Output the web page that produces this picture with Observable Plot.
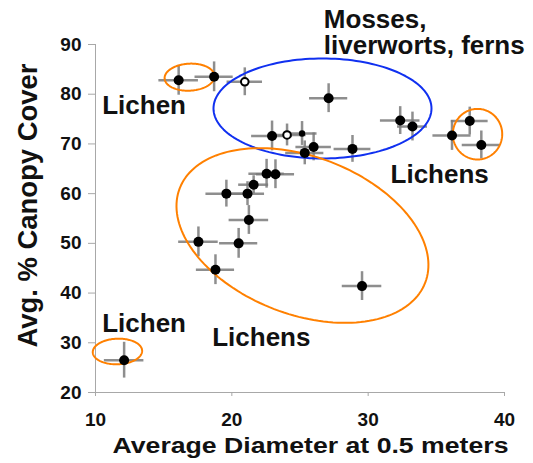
<!DOCTYPE html>
<html>
<head>
<meta charset="utf-8">
<script src="https://cdn.jsdelivr.net/npm/d3@7"></script>
<script src="https://cdn.jsdelivr.net/npm/@observablehq/plot@0.6"></script>
<style>
  html, body { margin: 0; padding: 0; background: #fff; }
</style>
</head>
<body>
<div id="chart"></div>
<script>
// Plot means: stem diameter at 0.5 m vs canopy cover, with ± error ranges
const diameter    = [16.1, 18.7, 20.95, 22.95, 24.05, 25.15, 26.0, 25.35, 28.85, 27.1, 32.35, 33.25, 36.15, 37.45, 38.3, 22.55, 23.2, 21.6, 19.6, 21.15, 21.25, 17.55, 20.5, 18.8, 29.55, 12.1];
const canopy      = [82.8, 83.5, 82.5, 71.6, 71.8, 72.1, 69.4, 68.2, 69.0, 79.2, 74.7, 73.5, 71.7, 74.6, 69.8, 64.0, 63.9, 61.8, 60.0, 60.0, 54.7, 50.3, 50.0, 44.7, 41.4, 26.5];
const diameterErr = [1.45, 1.4, 1.3, 1.5, 1.4, 1.1, 1.3, 1.4, 1.35, 1.4, 1.45, 1.1, 1.4, 1.35, 1.4, 1.3, 1.4, 1.1, 1.5, 1.25, 1.45, 1.45, 1.4, 1.4, 1.45, 1.45];
const canopyErr   = [3.0, 3.0, 2.8, 3.0, 2.2, 2.4, 2.8, 2.4, 2.7, 2.9, 2.8, 2.9, 3.0, 2.8, 2.8, 2.9, 2.9, 1.8, 2.7, 2.4, 2.9, 3.0, 3.0, 3.0, 2.9, 3.6];
const marker      = ["filled", "filled", "open", "filled", "open", "small", "filled", "filled", "filled", "filled", "filled", "filled", "filled", "filled", "filled", "filled", "filled", "filled", "filled", "filled", "filled", "filled", "filled", "filled", "filled", "filled"];

const xTicks = [10, 20, 30, 40];
const yTicks = [20, 30, 40, 50, 60, 70, 80, 90];
const xTitle = "Average Diameter at 0.5 meters";
const yTitle = "Avg. % Canopy Cover";

// Group labels, anchored at their start/baseline in data units
const labelText = ["Lichen", "Mosses,\nliverworts, ferns", "Lichens", "Lichen", "Lichens"];
const labelX    = [10.49, 26.75, 31.64, 10.49, 18.56];
const labelY    = [76.1, 88.13, 62.24, 32.27, 29.45];

// Group outlines: centre in data units, radii (px) and tilt (deg)
const ringX     = [16.9, 26.65, 38.02, 11.61, 25.18];
const ringY     = [83.43, 77.13, 71.96, 28.25, 51.58];
const ringColor = ["orange", "blue", "orange", "orange", "orange"];

const points = diameter.map((d, i) => ({
  x: d, y: canopy[i], xe: diameterErr[i], ye: canopyErr[i], kind: marker[i]
}));

const W = 533, H = 463;
const margin = {top: 44, right: 29, bottom: 71, left: 95};
const xDomain = [10, 40], yDomain = [20, 90];
const kx = (W - margin.left - margin.right) / (xDomain[1] - xDomain[0]);
const ky = (H - margin.top - margin.bottom) / (yDomain[1] - yDomain[0]);

const ringShape = [
  {rx: 25, ry: 13.5, angle: -3},
  {rx: 109, ry: 50, angle: 0},
  {rx: 24.7, ry: 25.3, angle: 0},
  {rx: 24.7, ry: 12.8, angle: -2},
  {rx: 131.5, ry: 78.8, angle: 21}
];
const palette = {orange: "#ff8000", blue: "#1030f0"};

function ringPoints(i) {
  const {rx, ry, angle} = ringShape[i];
  const th = angle * Math.PI / 180;
  const pts = [];
  for (let k = 0; k <= 160; k++) {
    const t = k / 160 * 2 * Math.PI;
    const px = rx * Math.cos(t) * Math.cos(th) - ry * Math.sin(t) * Math.sin(th);
    const py = rx * Math.cos(t) * Math.sin(th) + ry * Math.sin(t) * Math.cos(th);
    pts.push({x: ringX[i] + px / kx, y: ringY[i] - py / ky});
  }
  return pts;
}

const labels = labelText.map((t, i) => ({text: t, x: labelX[i], y: labelY[i]}));
const font = "'Liberation Sans', Arial, sans-serif";

const chart = Plot.plot({
  width: W,
  height: H,
  marginTop: margin.top,
  marginRight: margin.right,
  marginBottom: margin.bottom,
  marginLeft: margin.left,
  style: {fontFamily: font, fontSize: "19px", fontWeight: "bold", color: "#111", background: "#fff"},
  x: {domain: xDomain},
  y: {domain: yDomain},
  marks: [
    Plot.ruleX([10], {stroke: "#a8a8a8", strokeWidth: 1}),
    Plot.ruleY([20], {stroke: "#a8a8a8", strokeWidth: 1}),
    Plot.axisX({ticks: xTicks, tickSize: 4, tickPadding: 16, stroke: "#a8a8a8", fill: "#111", label: null}),
    Plot.axisY({ticks: yTicks, tickSize: 7, tickPadding: 7, stroke: "#a8a8a8", fill: "#111", label: null}),
    // error ranges
    Plot.ruleY(points, {y: "y", x1: d => d.x - d.xe, x2: d => d.x + d.xe, stroke: "#7a7a7a", strokeWidth: 2.5, strokeOpacity: 0.85}),
    Plot.ruleX(points, {x: "x", y1: d => d.y - d.ye, y2: d => d.y + d.ye, stroke: "#7a7a7a", strokeWidth: 2.5, strokeOpacity: 0.85}),
    // group outlines
    ...ringX.map((_, i) => Plot.line(ringPoints(i), {x: "x", y: "y", stroke: palette[ringColor[i]], strokeWidth: 2})),
    // means
    Plot.dot(points.filter(d => d.kind === "filled"), {x: "x", y: "y", r: 5, fill: "#000", stroke: "none"}),
    Plot.dot(points.filter(d => d.kind === "small"), {x: "x", y: "y", r: 3.2, fill: "#000", stroke: "none"}),
    Plot.dot(points.filter(d => d.kind === "open"), {x: "x", y: "y", r: 3.8, fill: "#fff", stroke: "#000", strokeWidth: 2}),
    // group labels
    Plot.text(labels, {x: "x", y: "y", text: "text", textAnchor: "start", lineAnchor: "bottom", lineHeight: 1.0, fontSize: 26, fontWeight: "bold", fill: "#111"}),
    // axis titles
    Plot.text([xTitle], {text: d => d, frameAnchor: "bottom", textAnchor: "middle", dx: 10.5, dy: 60, lineAnchor: "bottom", fontSize: 22, fontWeight: "bold", fill: "#111"}),
    Plot.text([yTitle], {text: d => d, frameAnchor: "left", textAnchor: "middle", dx: -59, dy: -13, rotate: -90, lineAnchor: "bottom", fontSize: 28, fontWeight: "bold", fill: "#111"})
  ]
});

// widen the axis titles to their printed lengths
chart.querySelectorAll("text").forEach(t => {
  if (t.textContent === xTitle) { t.setAttribute("textLength", 396); t.setAttribute("lengthAdjust", "spacingAndGlyphs"); }
  if (t.textContent === yTitle) { t.setAttribute("textLength", 284); t.setAttribute("lengthAdjust", "spacingAndGlyphs"); }
});

document.getElementById("chart").appendChild(chart);
</script>
</body>
</html>
